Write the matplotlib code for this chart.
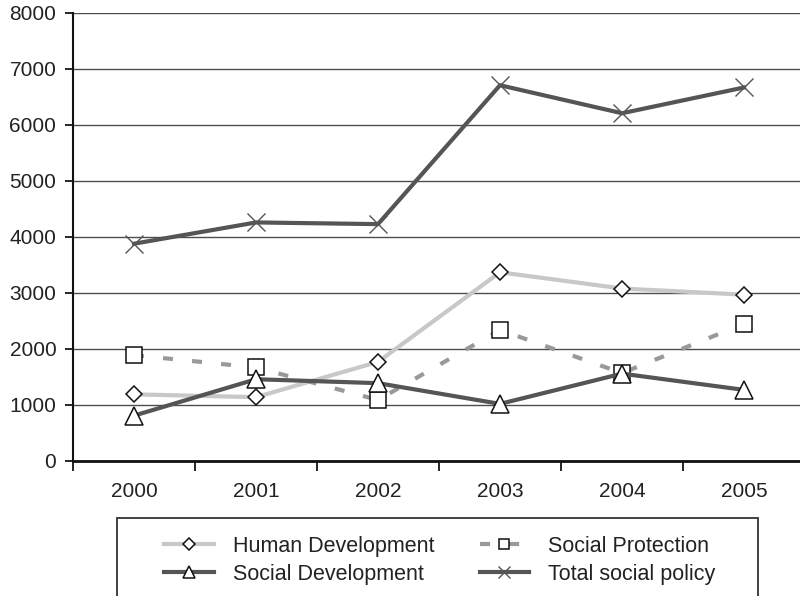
import numpy as np
import matplotlib
matplotlib.use('Agg')
import matplotlib.pyplot as plt
from matplotlib.patches import Rectangle

plt.rcParams['font.family'] = ['Liberation Sans', 'DejaVu Sans']

years = ['2000', '2001', '2002', '2003', '2004', '2005']
human_dev = [1190, 1140, 1770, 3370, 3080, 2970]
social_prot = [1890, 1670, 1090, 2340, 1570, 2450]
social_dev = [810, 1460, 1390, 1020, 1560, 1270]
total_policy = [3880, 4260, 4230, 6710, 6210, 6670]

x = np.arange(len(years))

fig = plt.figure(figsize=(8, 5.96), dpi=100)
ax = fig.add_axes([73/800, 135/596, 732/800, 448/596])

ax.plot(x, human_dev, color='#c8c8c8', lw=3, marker='D', ms=8.5, mfc='white',
        mec='#111111', mew=1.1, label='Human Development', zorder=3)
ax.plot(x, social_prot, color='#999999', lw=3, ls=(0, (2.4, 4.6)), dash_capstyle='butt',
        marker='s', ms=11, mfc='white', mec='#111111', mew=1.1,
        label='Social Protection', zorder=3)
ax.plot(x, social_dev, color='#555555', lw=3, marker='^', ms=13, mfc='white',
        mec='#111111', mew=1.1, label='Social Development', zorder=4)
ax.plot(x, total_policy, color='#555555', lw=3, marker='x', ms=13, mew=1.0,
        mec='#555555', label='Total social policy', zorder=5)

ax.set_xlim(-0.5, 5.5)
ax.set_ylim(0, 8000)
ax.set_yticks(np.arange(0, 8001, 1000))
ax.yaxis.grid(True, color='#4d4d4d', lw=1.0)
ax.set_axisbelow(True)

ax.set_xticks(np.arange(-0.5, 5.6, 1))
ax.set_xticklabels([])
ax.set_xticks(x, minor=True)
ax.set_xticklabels(years, minor=True)
ax.tick_params(axis='x', which='major', length=7, width=1.2, direction='out')
ax.tick_params(axis='x', which='minor', length=0, pad=15, labelsize=15, labelcolor='#222222')
ax.tick_params(axis='y', length=6, width=1.2, direction='out', pad=6, labelsize=15,
               labelcolor='#222222')

for s in ['top', 'right']:
    ax.spines[s].set_visible(False)
ax.spines['left'].set_linewidth(1.5)
ax.spines['bottom'].set_linewidth(2)
ax.spines['left'].set_color('#111111')
ax.spines['bottom'].set_color('#111111')

fig.patches.append(Rectangle((117/800, -0.05), (758-117)/800, (596-518)/596 + 0.05,
                             transform=fig.transFigure, fill=False,
                             edgecolor='#333333', lw=1.3))

h, l = ax.get_legend_handles_labels()
order = [0, 2, 1, 3]
leg = fig.legend([h[i] for i in order], [l[i] for i in order], ncol=2,
                 loc='upper left', bbox_to_anchor=(164/800, 1 - 536/596),
                 frameon=False, fontsize=15.5, handlelength=2.3, handletextpad=0.9,
                 columnspacing=2.1, labelspacing=0.32, markerscale=0.7,
                 borderaxespad=0, borderpad=0)
for t in leg.get_texts():
    t.set_color('#222222')

fig.savefig('out.png', dpi=100)
